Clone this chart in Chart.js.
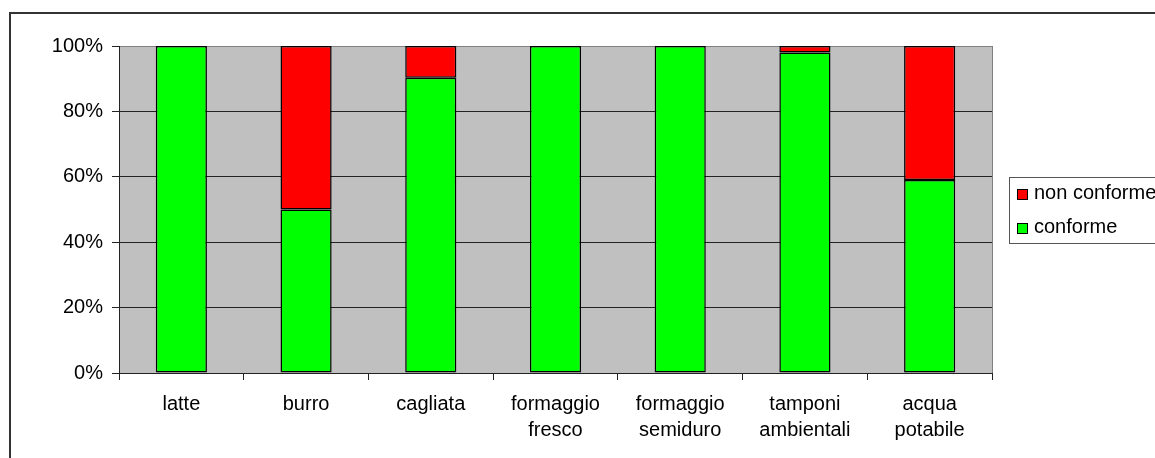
<!DOCTYPE html>
<html>
<head>
<meta charset="utf-8">
<script src="https://cdn.jsdelivr.net/npm/chart.js@4"></script>
<style>
    body { margin: 0; background: #fff; }
    #grafico { display: block; }
</style>
</head>
<body>
<canvas id="grafico" width="1155" height="458"></canvas>
<script>
const categorie = [
    'latte',
    'burro',
    'cagliata',
    ['formaggio', 'fresco'],
    ['formaggio', 'semiduro'],
    ['tamponi', 'ambientali'],
    ['acqua', 'potabile'],
];
const conforme = [100, 50, 90.3, 100, 100, 98, 59];
const nonConforme = [0, 50, 9.7, 0, 0, 2, 41];
const percentuali = [0, 20, 40, 60, 80, 100];

const FONT = 'Liberation Sans, Arial, sans-serif';

// sfondo grigio dell'area del grafico, bordo esterno e legenda
const sfondoECornice = {
    id: 'sfondoECornice',
    beforeDraw(chart) {
        const { ctx, chartArea } = chart;
        ctx.save();
        ctx.fillStyle = '#c0c0c0';
        ctx.fillRect(chartArea.left, chartArea.top, chartArea.right - chartArea.left, chartArea.bottom - chartArea.top);
        ctx.restore();
    },
    afterDraw(chart) {
        const { ctx, chartArea } = chart;
        ctx.save();
        // bordo destro dell'area
        ctx.strokeStyle = '#808080';
        ctx.lineWidth = 1;
        ctx.beginPath();
        ctx.moveTo(Math.round(chartArea.right) + 0.5, chartArea.top);
        ctx.lineTo(Math.round(chartArea.right) + 0.5, chartArea.bottom);
        ctx.stroke();

        // cornice esterna
        ctx.strokeStyle = '#333';
        ctx.lineWidth = 2;
        ctx.strokeRect(10, 13, 1200, 500);

        // legenda
        ctx.strokeStyle = '#555';
        ctx.lineWidth = 1;
        ctx.strokeRect(1009.5, 177.5, 200, 66);
        const voci = [
            { testo: 'non conforme', colore: '#ff0000', y: 189 },
            { testo: 'conforme', colore: '#00ff00', y: 223 },
        ];
        ctx.font = '20px ' + FONT;
        ctx.textBaseline = 'alphabetic';
        for (const voce of voci) {
            ctx.fillStyle = voce.colore;
            ctx.fillRect(1017, voce.y, 10, 10);
            ctx.strokeStyle = '#000';
            ctx.strokeRect(1017.5, voce.y + 0.5, 10, 10);
            ctx.fillStyle = '#000';
            ctx.fillText(voce.testo, 1034, voce.y + 10);
        }
        ctx.restore();
    }
};

function configurazione() {
    return {
        type: 'bar',
        data: {
            labels: categorie,
            datasets: [
                {
                    label: 'conforme',
                    data: conforme,
                    backgroundColor: '#00ff00',
                    borderColor: '#000',
                    borderWidth: 1.5,
                    borderSkipped: false,
                    barPercentage: 0.41,
                    categoryPercentage: 1,
                },
                {
                    label: 'non conforme',
                    data: nonConforme,
                    backgroundColor: '#ff0000',
                    borderColor: '#000',
                    borderWidth: 1.5,
                    borderSkipped: false,
                    barPercentage: 0.41,
                    categoryPercentage: 1,
                },
            ]
        },
        options: {
            responsive: false,
            animation: false,
            layout: {
                padding: { left: 10, top: 46, right: 163, bottom: 0 }
            },
            plugins: {
                legend: { display: false },
                tooltip: { enabled: false },
            },
            scales: {
                x: {
                    stacked: true,
                    grid: {
                        offset: true,
                        drawOnChartArea: false,
                        color: '#222',
                        tickLength: 7,
                    },
                    border: { color: '#222', width: 1 },
                    ticks: {
                        color: '#000',
                        maxRotation: 0,
                        autoSkip: false,
                        padding: 11,
                        font: { family: FONT, size: 20, lineHeight: 1.3 },
                    },
                    afterFit(scale) {
                        scale.height = 458 - 373;
                    },
                },
                y: {
                    stacked: true,
                    min: 0,
                    max: 100,
                    afterBuildTicks(scale) {
                        scale.ticks = percentuali.map(v => ({ value: v }));
                    },
                    grid: {
                        color: ctx => ctx.tick && ctx.tick.value === 100 ? '#808080' : '#222',
                        tickColor: '#222',
                        tickLength: 7,
                    },
                    border: { color: '#222', width: 1 },
                    ticks: {
                        color: '#000',
                        padding: 9,
                        font: { family: FONT, size: 20 },
                        callback: v => v + '%',
                    },
                    afterFit(scale) {
                        scale.width = 109;
                    },
                },
            }
        },
        plugins: [sfondoECornice]
    };
}

const grafico = new Chart(document.getElementById('grafico'), configurazione());
</script>
</body>
</html>
